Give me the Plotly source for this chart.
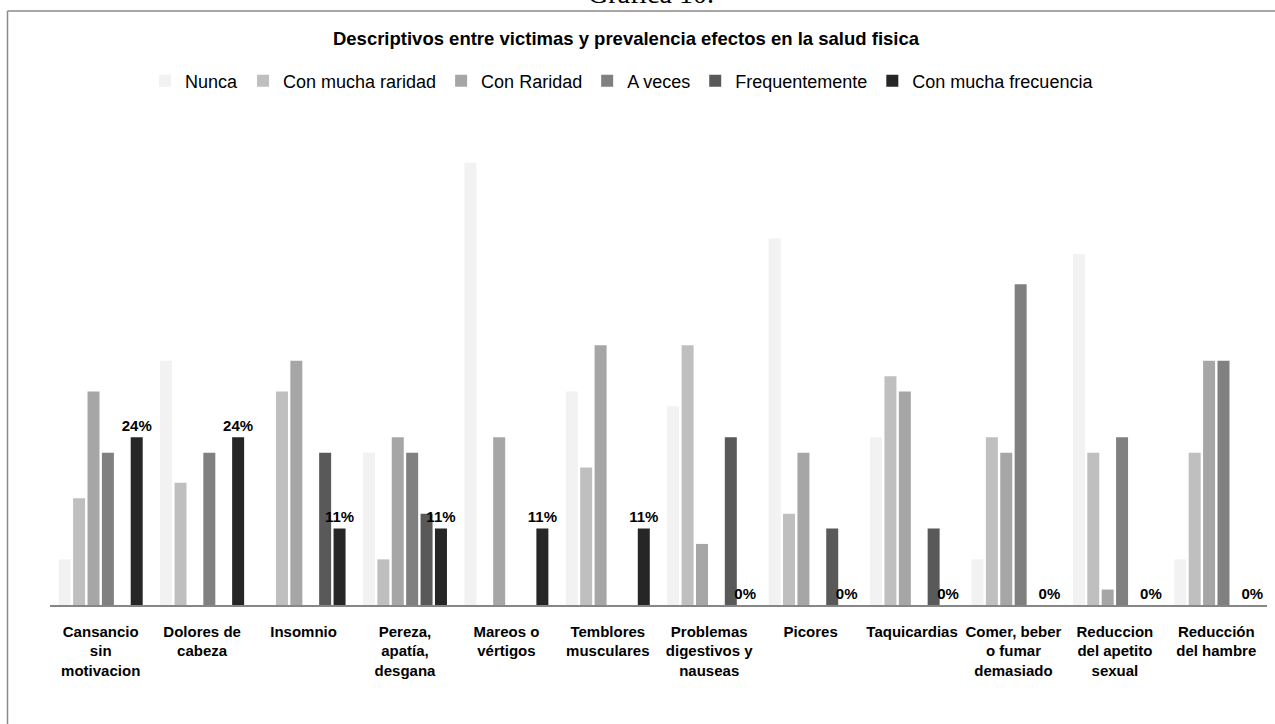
import plotly.graph_objects as go

categories = [
    "Cansancio<br>sin<br>motivacion", "Dolores de<br>cabeza", "Insomnio",
    "Pereza,<br>apatía,<br>desgana", "Mareos o<br>vértigos", "Temblores<br>musculares",
    "Problemas<br>digestivos y<br>nauseas", "Picores", "Taquicardias",
    "Comer, beber<br>o fumar<br>demasiado", "Reduccion<br>del apetito<br>sexual",
    "Reducción<br>del hambre",
]

series_names = ["Nunca", "Con mucha raridad", "Con Raridad", "A veces",
                "Frequentemente", "Con mucha frecuencia"]

nunca = [6.5, 34.8, 0, 21.7, 63.0, 30.4, 28.3, 52.2, 23.9, 6.5, 50.0, 6.5]
con_mucha_raridad = [15.2, 17.4, 30.4, 6.5, 0, 19.6, 37.0, 13.0, 32.6, 23.9, 21.7, 21.7]
con_raridad = [30.4, 0, 34.8, 23.9, 23.9, 37.0, 8.7, 21.7, 30.4, 21.7, 2.2, 34.8]
a_veces = [21.7, 21.7, 0, 21.7, 0, 0, 0, 0, 0, 45.7, 23.9, 34.8]
frequentemente = [0, 0, 21.7, 13.0, 0, 0, 23.9, 10.9, 10.9, 0, 0, 0]
con_mucha_frecuencia = [23.9, 23.9, 10.9, 10.9, 10.9, 10.9, 0, 0, 0, 0, 0, 0]

series_values = [nunca, con_mucha_raridad, con_raridad, a_veces,
                 frequentemente, con_mucha_frecuencia]
colors = ["#f2f2f2", "#bfbfbf", "#a6a6a6", "#808080", "#595959", "#262626"]

NARROW = "Liberation Sans Narrow, Arial Narrow, Liberation Sans, Arial, sans-serif"

fig = go.Figure()
for i, (name, vals, col) in enumerate(zip(series_names, series_values, colors)):
    kw = {}
    if i == len(series_names) - 1:
        kw = dict(
            texttemplate="%{y:.0f}%",
            textposition="outside",
            constraintext="none",
            cliponaxis=False,
            outsidetextfont=dict(family=NARROW, size=15, color="#000000", weight="bold"),
        )
    fig.add_trace(go.Bar(
        name=name, x=categories, y=vals,
        marker=dict(color=col, line=dict(width=0)),
        hoverinfo="skip",
        **kw,
    ))

W, H = 1275, 724
L, R, T, B = 50, 8, 140, 119
pw, ph = W - L - R, H - T - B


def px_x(px):
    return (px - L) / pw


def px_y(py):
    return (H - B - py) / ph


fig.update_layout(
    width=W, height=H,
    margin=dict(l=L, r=R, t=T, b=B, pad=0),
    paper_bgcolor="white", plot_bgcolor="white",
    barmode="group", bargap=0.148, bargroupgap=0.167,
    showlegend=True,
    legend=dict(
        orientation="h", x=px_x(622), xanchor="center", y=px_y(81), yanchor="middle",
        font=dict(family=NARROW, size=18, color="#000000"),
        traceorder="normal", itemwidth=30, bgcolor="rgba(0,0,0,0)",
    ),
    title=dict(
        text="<b>Descriptivos entre victimas y prevalencia efectos en la salud fisica</b>",
        x=626 / W, xanchor="center", xref="container",
        y=1 - 39 / H, yanchor="middle", yref="container",
        font=dict(family="Liberation Sans, Arial, sans-serif", size=18.5, color="#000000"),
    ),
    xaxis=dict(
        showline=True, linecolor="#868686", linewidth=1.5,
        showgrid=False, zeroline=False, ticks="",
        tickfont=dict(family=NARROW, size=15, color="#000000", weight="bold"),
        tickangle=0, ticklabelstandoff=12,
    ),
    yaxis=dict(
        range=[0, ph / 7.02], showgrid=False, zeroline=False,
        showticklabels=False, showline=False, ticks="",
    ),
    shapes=[
        dict(type="line", xref="paper", yref="paper",
             x0=px_x(7.5), x1=px_x(7.5), y0=px_y(11), y1=px_y(730),
             line=dict(color="#8a8a8a", width=1.5)),
        dict(type="line", xref="paper", yref="paper",
             x0=px_x(7.5), x1=px_x(1280), y0=px_y(11), y1=px_y(11),
             line=dict(color="#8a8a8a", width=1.5)),
    ],
    annotations=[
        dict(text="Gráfica 10.", xref="paper", yref="paper",
             x=px_x(651), y=px_y(10), xanchor="center", yanchor="bottom",
             showarrow=False, borderpad=0,
             font=dict(family="Liberation Serif, Times New Roman, serif", size=28, color="#000000")),
    ],
)

fig.write_html("out.html")
